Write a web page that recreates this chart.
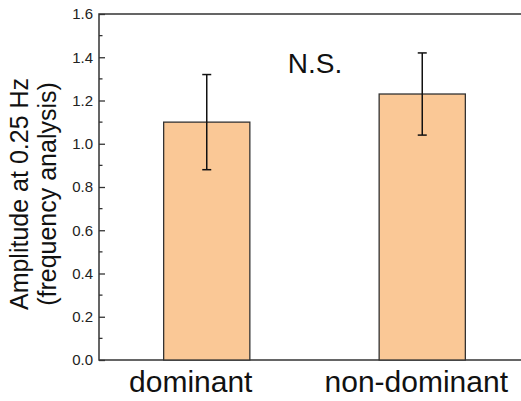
<!DOCTYPE html>
<html>
<head>
<meta charset="utf-8">
<script src="https://cdn.jsdelivr.net/npm/d3@7"></script>
<style>
  body { margin: 0; background: #fff; }
  svg { display: block; font-family: "Liberation Sans", Arial, sans-serif; }
</style>
</head>
<body>
<div id="chart"></div>
<script>
// Data
const categories = ['dominant', 'non-dominant'];
const means = [1.10, 1.23];
const errors = [0.22, 0.19];
const yTicks = [0, 0.2, 0.4, 0.6, 0.8, 1.0, 1.2, 1.4, 1.6];

const width = 521;
const height = 401;
const margin = { top: 14, right: -9, bottom: 41, left: 99 };

const svg = d3
  .select('#chart')
  .append('svg')
  .attr('width', width)
  .attr('height', height);

const x = d3
  .scaleBand()
  .domain(categories)
  .range([margin.left, width - margin.right])
  .paddingInner(0.6)
  .paddingOuter(0.3);

const y = d3
  .scaleLinear()
  .domain([0, 1.6])
  .range([height - margin.bottom, margin.top]);

const axisColor = '#333';

// Frame: top and left/bottom lines (right side runs off the picture)
svg
  .append('rect')
  .attr('x', margin.left)
  .attr('y', margin.top)
  .attr('width', width - margin.right - margin.left)
  .attr('height', height - margin.bottom - margin.top)
  .attr('fill', 'none')
  .attr('stroke', axisColor)
  .attr('stroke-width', 1.5);

// Bars
svg
  .selectAll('rect.bar')
  .data(categories)
  .enter()
  .append('rect')
  .attr('class', 'bar')
  .attr('x', (d) => x(d))
  .attr('y', (d, i) => y(means[i]))
  .attr('width', x.bandwidth())
  .attr('height', (d, i) => y(0) - y(means[i]))
  .attr('fill', '#fac896')
  .attr('stroke', '#333')
  .attr('stroke-width', 1.3);

// Error bars
const capHalf = 4.5;
categories.forEach((c, i) => {
  const cx = x(c) + x.bandwidth() / 2;
  const g = svg.append('g').attr('stroke', '#111').attr('stroke-width', 1.5);
  g.append('line')
    .attr('x1', cx).attr('x2', cx)
    .attr('y1', y(means[i] + errors[i]))
    .attr('y2', y(means[i] - errors[i]));
  [means[i] + errors[i], means[i] - errors[i]].forEach((v) => {
    g.append('line')
      .attr('x1', cx - capHalf).attr('x2', cx + capHalf)
      .attr('y1', y(v)).attr('y2', y(v));
  });
});

// Y axis: inward ticks, major every 0.2 and minor every 0.1
const yAxis = d3
  .axisLeft(y)
  .tickValues(yTicks)
  .tickSize(-6)
  .tickPadding(6)
  .tickFormat(d3.format('.1f'));

const yAxisG = svg
  .append('g')
  .attr('transform', `translate(${margin.left},0)`)
  .call(yAxis);
yAxisG.select('.domain').remove();
yAxisG.selectAll('line').attr('stroke', axisColor).attr('stroke-width', 1.3);
yAxisG
  .selectAll('text')
  .attr('fill', '#222')
  .style('font-size', '15px')
  .style('font-family', '"Liberation Sans", Arial, sans-serif');

const minorTicks = d3.range(0.1, 1.6, 0.2);
svg
  .append('g')
  .selectAll('line')
  .data(minorTicks)
  .enter()
  .append('line')
  .attr('x1', margin.left)
  .attr('x2', margin.left + 3.5)
  .attr('y1', (d) => y(d))
  .attr('y2', (d) => y(d))
  .attr('stroke', axisColor)
  .attr('stroke-width', 1.3);

// Category labels
const labelShift = [-16, -6];
svg
  .selectAll('text.cat')
  .data(categories)
  .enter()
  .append('text')
  .attr('class', 'cat')
  .attr('x', (d, i) => x(d) + x.bandwidth() / 2 + labelShift[i])
  .attr('y', 392)
  .attr('text-anchor', 'middle')
  .style('font-size', '30px')
  .attr('fill', '#111')
  .text((d) => d);

// Y axis title (two lines)
const yTitle = svg
  .append('text')
  .attr('transform', 'translate(0,194) rotate(-90)')
  .attr('text-anchor', 'middle')
  .style('font-size', '25px')
  .attr('fill', '#111');
yTitle.append('tspan').attr('x', 0).attr('y', 28).text('Amplitude at 0.25 Hz');
yTitle.append('tspan').attr('x', 0).attr('y', 56).text('(frequency analysis)');

// Significance annotation
svg
  .append('text')
  .attr('x', 315)
  .attr('y', 73)
  .attr('text-anchor', 'middle')
  .style('font-size', '28px')
  .attr('fill', '#111')
  .text('N.S.');
</script>
</body>
</html>
